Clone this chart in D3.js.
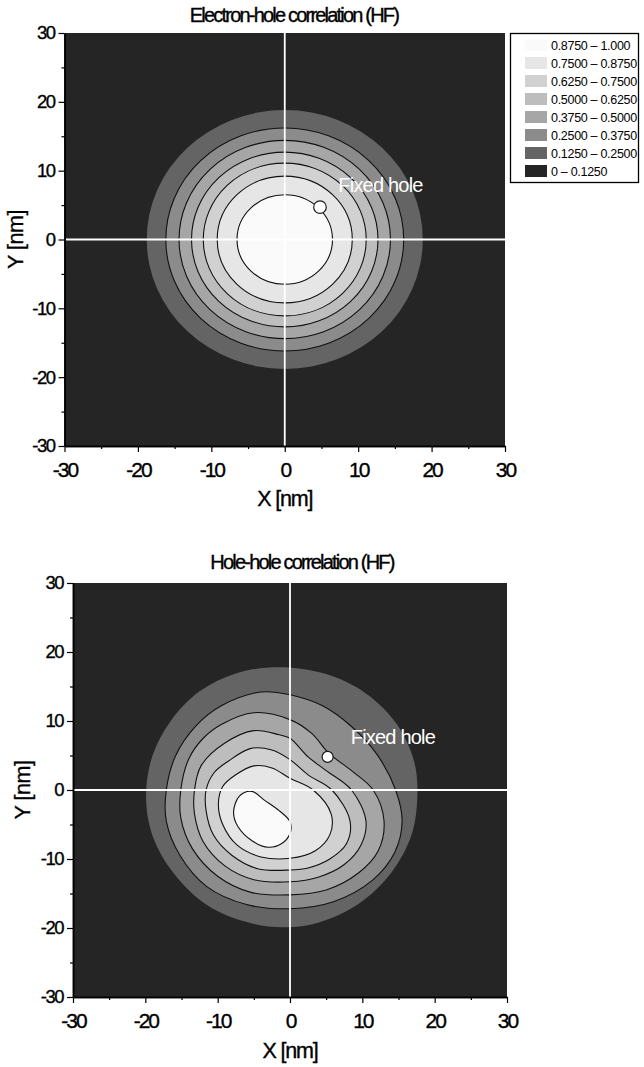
<!DOCTYPE html>
<html>
<head>
<meta charset="utf-8">
<script src="https://cdn.jsdelivr.net/npm/d3@7.9.0/dist/d3.min.js"></script>
<style>
  body { margin: 0; background: #fff; }
  svg { display: block; font-family: "Liberation Sans", Arial, sans-serif; }
  .heavy { stroke: #000; stroke-width: 0.35; }
</style>
</head>
<body>
<svg id="chart" width="644" height="1067"></svg>
<script>
// contour levels and band fills (band i lies between level i-1 and level i)
const levels = [0.125, 0.25, 0.375, 0.5, 0.625, 0.75, 0.875];
const bandColors = ["#252525", "#646464", "#8b8b8b", "#a6a6a6", "#bdbdbd", "#d1d1d1", "#e6e6e6", "#fafafa"];
const legendLabels = ["0.8750 \u2013 1.000", "0.7500 \u2013 0.8750", "0.6250 \u2013 0.7500", "0.5000 \u2013 0.6250",
  "0.3750 \u2013 0.5000", "0.2500 \u2013 0.3750", "0.1250 \u2013 0.2500", "0 \u2013 0.1250"];

const majorTicks = [-30, -20, -10, 0, 10, 20, 30];
const minorTicks = [-25, -15, -5, 5, 15, 25];

// electron-hole: nearly circular contours around the origin, radius per level [nm]
const ehRadius = [18.8, 16.2, 14.4, 12.7, 11.1, 9.2, 6.5];
const ehHole = [4.8, 4.7];
const ehLabel = [7.3, 6.9];

// hole-hole: contour outlines [nm]
const hh0125 = [[-1.5,17.8],[5,16.8],[10.5,14],[14.8,9.5],[17.2,4],[17.6,-1],[16.8,-6.5],[14,-12],[9.5,-16.5],[4,-19.2],[-1,-19.9],[-6.5,-19],[-12,-16.3],[-16.5,-11.5],[-19.2,-6],[-19.9,-0.5],[-19,5],[-16.5,10],[-12.5,14.3],[-7.5,16.9]];
const hh0250 = [[-4,14.2],[0,13.8],[4.5,12.2],[8.5,9.2],[12,5.2],[14.6,0],[15.5,-4.5],[14.5,-9],[11.5,-13],[6,-16.2],[0,-17.2],[-6,-16.6],[-11.5,-14],[-15.2,-9.5],[-17.1,-4.5],[-17.1,0],[-15.8,5],[-13,9.3],[-9.5,12.2]];
const hh0375 = [[-5,11.2],[0,10.2],[3,8.2],[5.4,5.3],[8.5,2.8],[11.5,0],[13,-4.5],[12.2,-8.8],[9.5,-12],[5,-14.5],[0,-15.2],[-5.5,-14.8],[-10,-12.5],[-13.5,-8.5],[-15.1,-4],[-15.1,0],[-14,4.5],[-12,7.5],[-9.5,9.5]];
const hh0500 = [[-5,8.6],[-1.5,8],[0,7.5],[2.5,4.8],[5,2.8],[8.5,0],[10.5,-4.5],[9.8,-8],[7.5,-10.8],[4,-12.6],[0,-13.3],[-5,-13],[-9,-11],[-12,-7.5],[-13.2,-3.5],[-13.2,0],[-12.3,3.5],[-9,6.8]];
const hh0625 = [[-5.5,6],[-2.5,5.8],[0,4.4],[2.5,2.2],[5.8,0],[8.3,-4.5],[7.8,-7.8],[5.5,-10],[2.5,-11.3],[0,-11.6],[-4.5,-11.4],[-8,-9.5],[-10.6,-6.5],[-11.6,-3],[-11.6,0],[-10.5,2.5],[-8.5,4.2]];
const hh0750 = [[-5,3.5],[-2.5,3.2],[0,1.7],[3.2,0],[5.7,-3.5],[5.5,-6.5],[3.5,-8.8],[0,-9.9],[-4,-9.7],[-7.3,-8],[-9.3,-5],[-9.9,-2],[-9.3,0.5],[-7.5,2.2]];
const hh0875 = [[-5.3,-0.2],[-3.5,-1.5],[-1.5,-3],[0,-4.6],[0,-6.3],[-1.2,-7.8],[-3,-8.3],[-5.2,-7.4],[-7.2,-5.3],[-7.8,-3.2],[-7,-0.9]];
const hhContours = [hh0125, hh0250, hh0375, hh0500, hh0625, hh0750, hh0875];
const hhHole = [5.2, 4.8];
const hhLabel = [8.4, 6.7];

const svg = d3.select("#chart");
const defs = svg.append("defs");

function drawPanel(p) {
  const x = d3.scaleLinear().domain([-30, 30]).range([p.left, p.right]);
  const y = d3.scaleLinear().domain([-30, 30]).range([p.bottom, p.top]);

  defs.append("clipPath").attr("id", p.id)
    .append("rect")
    .attr("x", p.left).attr("y", p.top)
    .attr("width", p.right - p.left).attr("height", p.bottom - p.top);

  const plot = svg.append("g").attr("clip-path", `url(#${p.id})`);
  plot.append("rect")
    .attr("x", p.left).attr("y", p.top)
    .attr("width", p.right - p.left).attr("height", p.bottom - p.top)
    .attr("fill", bandColors[0]);

  p.bands(plot, x, y);

  // white cross through the origin
  plot.append("line")
    .attr("x1", x(0)).attr("x2", x(0)).attr("y1", p.top).attr("y2", p.bottom)
    .attr("stroke", "#fff").attr("stroke-width", 1.8);
  plot.append("line")
    .attr("x1", p.left).attr("x2", p.right).attr("y1", y(0)).attr("y2", y(0))
    .attr("stroke", "#fff").attr("stroke-width", 1.8);

  // fixed hole
  plot.append("circle")
    .attr("cx", x(p.hole[0])).attr("cy", y(p.hole[1])).attr("r", p.holeR)
    .attr("fill", "#fff").attr("stroke", "#1a1a1a").attr("stroke-width", 1.2);
  plot.append("text")
    .attr("x", x(p.label[0])).attr("y", y(p.label[1]))
    .attr("fill", "#fff").attr("font-size", 20).attr("letter-spacing", -0.8)
    .text("Fixed hole");

  // axes
  const fmt = d => String(d);
  const yAx = svg.append("g").attr("transform", `translate(${p.left},0)`)
    .call(d3.axisLeft(y).tickValues(majorTicks).tickSize(6).tickSizeOuter(0).tickPadding(4).tickFormat(fmt));
  svg.append("g").attr("transform", `translate(${p.left},0)`)
    .call(d3.axisLeft(y).tickValues(minorTicks).tickSize(3).tickSizeOuter(0).tickFormat(""));
  const xAx = svg.append("g").attr("transform", `translate(0,${p.bottom})`)
    .call(d3.axisBottom(x).tickValues(majorTicks).tickSize(6).tickSizeOuter(0).tickPadding(p.xPad).tickFormat(fmt));
  svg.append("g").attr("transform", `translate(0,${p.bottom})`)
    .call(d3.axisBottom(x).tickValues(minorTicks).tickSize(3).tickSizeOuter(0).tickFormat(""));

  svg.selectAll(".domain").attr("stroke", "#000").attr("stroke-width", 1.5);
  svg.selectAll(".tick line").attr("stroke", "#000").attr("stroke-width", 1.2);
  yAx.attr("font-family", null).attr("font-size", null);
  xAx.attr("font-family", null).attr("font-size", null);
  yAx.selectAll("text").attr("class", "heavy").attr("font-size", 18.5).attr("letter-spacing", -1.5).attr("fill", "#000");
  xAx.selectAll("text").attr("class", "heavy").attr("font-size", 21).attr("letter-spacing", -2).attr("fill", "#000");

  // titles
  svg.append("text")
    .attr("class", "heavy")
    .attr("x", p.titleX).attr("y", p.titleY).attr("text-anchor", "middle")
    .attr("font-size", 20).attr("letter-spacing", -1.8)
    .text(p.title);
  svg.append("text")
    .attr("class", "heavy")
    .attr("x", x(0)).attr("y", p.xLabelY).attr("text-anchor", "middle")
    .attr("font-size", 21.5).attr("letter-spacing", -1.2)
    .text("X [nm]");
  svg.append("text")
    .attr("class", "heavy")
    .attr("transform", `translate(${p.yLabelX},${y(0)}) rotate(-90)`)
    .attr("text-anchor", "middle")
    .attr("font-size", 21.5).attr("letter-spacing", -0.5)
    .text("Y [nm]");
}

// panel 1: electron-hole
drawPanel({
  id: "clip1", left: 64.5, right: 505, top: 33, bottom: 446,
  title: "Electron-hole correlation (HF)", titleX: 294, titleY: 22,
  xPad: 10, xLabelY: 506, yLabelX: 23,
  hole: ehHole, holeR: 6.3, label: ehLabel,
  bands: (g, x, y) => {
    g.selectAll(".band")
      .data(ehRadius)
      .join("ellipse")
      .attr("cx", x(0)).attr("cy", y(0))
      .attr("rx", r => x(r) - x(0))
      .attr("ry", r => y(0) - y(r))
      .attr("fill", (r, i) => bandColors[i + 1])
      .attr("stroke", (r, i) => i === 0 ? "none" : "#111")
      .attr("stroke-width", 1.1);
  }
});

// panel 2: hole-hole
drawPanel({
  id: "clip2", left: 73, right: 507, top: 583, bottom: 997,
  title: "Hole-hole correlation (HF)", titleX: 302, titleY: 569,
  xPad: 10, xLabelY: 1058, yLabelX: 30,
  hole: hhHole, holeR: 5.5, label: hhLabel,
  bands: (g, x, y) => {
    const line = d3.line()
      .x(d => x(d[0])).y(d => y(d[1]))
      .curve(d3.curveCatmullRomClosed.alpha(0.5));
    g.selectAll(".band")
      .data(hhContours)
      .join("path")
      .attr("d", line)
      .attr("fill", (c, i) => bandColors[i + 1])
      .attr("stroke", (c, i) => i === 0 ? "none" : "#111")
      .attr("stroke-width", 1.1);
  }
});

// legend
const leg = svg.append("g");
leg.append("rect")
  .attr("x", 510.5).attr("y", 33.5).attr("width", 128).attr("height", 149)
  .attr("fill", "#fff").attr("stroke", "#000").attr("stroke-width", 1.3);
const rowY = d3.scalePoint().domain(d3.range(legendLabels.length)).range([45, 171]);
const rows = leg.selectAll(".row")
  .data(legendLabels)
  .join("g")
  .attr("transform", (d, i) => `translate(0,${rowY(i)})`);
rows.append("rect")
  .attr("x", 525).attr("y", -6).attr("width", 22).attr("height", 12)
  .attr("fill", (d, i) => bandColors[bandColors.length - 1 - i]);
rows.append("text")
  .attr("x", 551).attr("y", 4.5)
  .attr("font-size", 12.5).attr("letter-spacing", -0.3)
  .text(d => d);
</script>
</body>
</html>
